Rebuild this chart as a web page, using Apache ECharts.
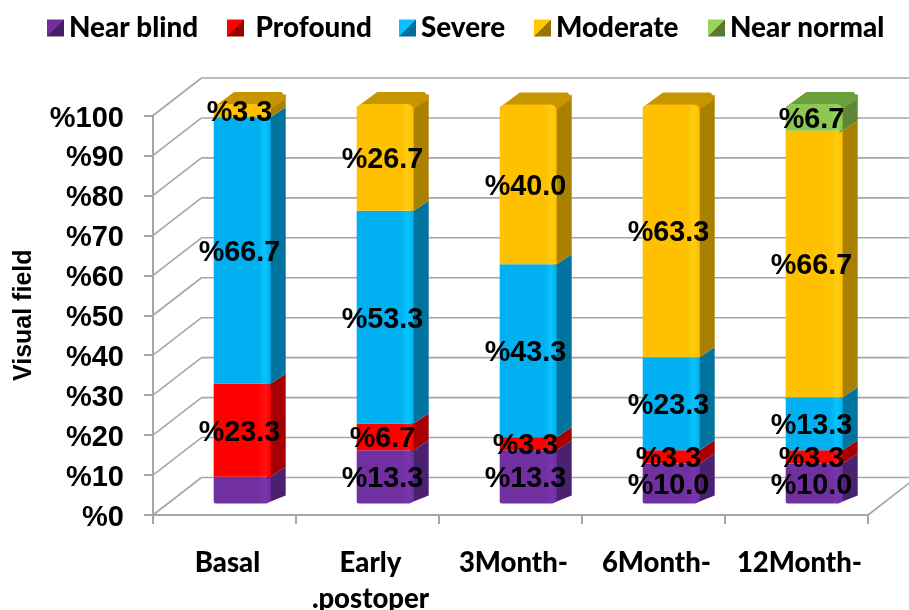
<!DOCTYPE html>
<html><head><meta charset="utf-8">
<style>html,body{margin:0;padding:0;background:#fff}#c{width:909px;height:610px}</style>
<script src="https://cdn.jsdelivr.net/npm/echarts@6/dist/echarts.min.js"></script>
</head><body><div id="c"></div>
<script>
const categories = ['Basal', 'Early\n.postoper', '3Month-', '6Month-', '12Month-'];
const nearBlind  = [6.7, 13.3, 13.3, 10.0, 10.0];
const profound   = [23.3, 6.7, 3.3, 3.3, 3.3];
const severe     = [66.7, 53.3, 43.3, 23.3, 13.3];
const moderate   = [3.3, 26.7, 40.0, 63.3, 66.7];
const nearNormal = [0, 0, 0, 0, 6.7];
const seriesNames = ['Near blind', 'Profound', 'Severe', 'Moderate', 'Near normal'];
const yTicks = [0, 10, 20, 30, 40, 50, 60, 70, 80, 90, 100];
// the reference prints no value on the Basal "Near blind" segment
const unlabelled = ['0:0'];

const values = [nearBlind, profound, severe, moderate, nearNormal];
const faces = [
  {front:'#7030A0', light:'#7A35AE', side:'#4A2070', top:'#5A2785', icon:['#7030A0','#42205F']},
  {front:'#FF0000', light:'#FF1010', side:'#A80000', top:'#C00000', icon:['#FF0000','#980000']},
  {front:'#00B0F0', light:'#08C4FF', side:'#00739E', top:'#0088BA', icon:['#08C0FF','#00709A']},
  {front:'#FFC000', light:'#FFCC10', side:'#AA8000', top:'#C69500', icon:['#FFC800','#9A7400']},
  {front:'#8CC850', light:'#98D458', side:'#5E8636', top:'#6CA03C', icon:['#98D458','#557A30']}
];
const legendLeft = [47, 227, 399, 534, 708];
const depthX = 15, depthY = 12, baseLift = 11.5, halfW = 28.5, shiftX = 17.7, labelShiftX = 15, labelLift = 9;
const grey = '#A6A6A6';
const font = 'Lato';
const numFont = 'Liberation Sans';

const topIndex = categories.map((_, c) => {
  let t = 0; values.forEach((v, s) => { if (v[c] > 0) t = s; }); return t;
});

function cellData(s) {
  return categories.map((_, c) => {
    let start = 0;
    for (let k = 0; k < s; k++) start += values[k][c];
    return [c, start, start + values[s][c]];
  }).filter((d, c) => values[s][c] > 0);
}

function cellRender(s) {
  return function (params, api) {
    const c = api.value(0);
    const p0 = api.coord([c, api.value(1)]);
    const p1 = api.coord([c, api.value(2)]);
    const cx = p0[0] + shiftX;
    const x0 = cx - halfW, x1 = cx + halfW;
    const yb = p0[1] - baseLift, yt = p1[1] - baseLift;
    const f = faces[s];
    const isBottom = s === 0, isTop = topIndex[c] === s;
    const kids = [];
    const sideBottom = isBottom
      ? [[x1+depthX, yb-depthY+4], [x1-5, yb]]
      : [[x1+depthX, yb-depthY+2], [x1-3, yb+2]];
    kids.push({type:'polygon', shape:{points:[[x1-3,yt+2],[x1+depthX,yt-depthY+2]].concat(sideBottom)},
      style:{fill:f.side}});
    if (isTop) {
      kids.push({type:'polygon', shape:{points:[[x0+2,yt+4],[x0+21,yt-depthY+2],[x1+depthX-5,yt-depthY+2],[x1+depthX-2,yt-depthY+6],[x1-2,yt+4]]},
        style:{fill:f.top, stroke:f.top, lineWidth:4, lineJoin:'round'}});
    }
    kids.push({type:'rect', shape:{x:x0,y:yt,width:x1-x0,height:yb-yt,r:isBottom?[0,0,5,2]:(isTop?[6,6,0,0]:0)},
      style:{fill:{type:'linear',x:0,y:0,x2:1,y2:0,colorStops:[
        {offset:0,color:f.front},{offset:0.78,color:f.front},{offset:0.9,color:f.light},{offset:1,color:f.front}]}}});
    return {type:'group', children:kids};
  };
}

function wallRender(params, api) {
  const v = api.value(0);
  const f = api.coord([0, v]);
  const left = f[0] - api.size([1, 0])[0] / 2;
  const dx = 48.5, dy = 37.5;
  const sty = {stroke:grey, lineWidth:1.6, fill:null};
  const kids = [
    {type:'line', shape:{x1:left,y1:f[1],x2:left+dx,y2:f[1]-dy}, style:sty},
    {type:'line', shape:{x1:left+dx,y1:f[1]-dy,x2:909,y2:f[1]-dy}, style:sty}
  ];
  if (v === 0) {
    const right = left + api.size([1, 0])[0] * categories.length;
    kids.push({type:'line', shape:{x1:right,y1:f[1],x2:right+dx,y2:f[1]-dy}, style:sty});
  }
  return {type:'group', children:kids};
}

const labelData = [];
values.forEach((arr, s) => arr.forEach((v, c) => {
  if (v <= 0 || unlabelled.includes(s + ':' + c)) return;
  let start = 0;
  for (let k = 0; k < s; k++) start += values[k][c];
  labelData.push([c, start + v / 2, v]);
}));

const series = [{
  name:'wall', type:'custom', z:1, silent:true, clip:false,
  data:yTicks.map(v => [v]), encode:{y:0}, renderItem:wallRender
}];
seriesNames.forEach((name, s) => series.push({
  name, type:'custom', z:2, clip:false, renderItem:cellRender(s),
  data:cellData(s), encode:{x:0, y:[1,2]},
  itemStyle:{color:{type:'linear',x:0,y:0,x2:1,y2:1,colorStops:[
    {offset:0,color:faces[s].icon[0]},{offset:0.5,color:faces[s].icon[0]},
    {offset:0.5,color:faces[s].icon[1]},{offset:1,color:faces[s].icon[1]}]}}
}));
series.push({
  name:'labels', type:'custom', z:5, silent:true, clip:false, data:labelData, encode:{x:0, y:1},
  renderItem(params, api) {
    const p = api.coord([api.value(0), api.value(1)]);
    return {type:'text', style:{
      text:'%' + api.value(2).toFixed(1), x:p[0] + labelShiftX, y:p[1] - labelLift,
      align:'center', verticalAlign:'middle', fill:'#000',
      font:'bold 28.8px "' + numFont + '"'
    }};
  }
});

const chart = echarts.init(document.getElementById('c'));
chart.setOption({
  animation:false,
  backgroundColor:'#fff',
  legend:seriesNames.map((n, s) => ({
    data:[n], left:legendLeft[s], top:14, padding:0, itemWidth:17, itemHeight:17, itemGap:0,
    icon:'rect', selectedMode:false,
    formatter:s === 1 ? ' {name}' : '{name}',
    textStyle:{color:'#000', fontFamily:font, fontWeight:900, fontSize:27.8}
  })),
  grid:{left:153, right:41, top:115.5, bottom:95, outerBoundsMode:'none'},
  xAxis:{
    type:'category', data:categories,
    axisLine:{lineStyle:{color:grey, width:2}},
    axisTick:{show:true, length:9, lineStyle:{color:grey, width:2}},
    axisLabel:{color:'#000', fontFamily:font, fontWeight:900, fontSize:27.5, margin:30, lineHeight:36, interval:0, padding:[0,0,0,6]}
  },
  yAxis:{
    type:'value', min:0, max:100, interval:10,
    name:'Visual field', nameLocation:'middle', nameGap:116, nameRotate:90,
    nameTextStyle:{color:'#000', fontFamily:numFont, fontWeight:'bold', fontSize:25},
    axisLine:{show:true, lineStyle:{color:grey, width:2}},
    axisTick:{show:true, length:9, lineStyle:{color:grey, width:2}},
    axisLabel:{color:'#000', fontFamily:numFont, fontWeight:'bold', fontSize:29, margin:29, verticalAlign:'top', lineHeight:6, formatter:v => '%' + v},
    splitLine:{show:false}
  },
  series
});
</script></body></html>
